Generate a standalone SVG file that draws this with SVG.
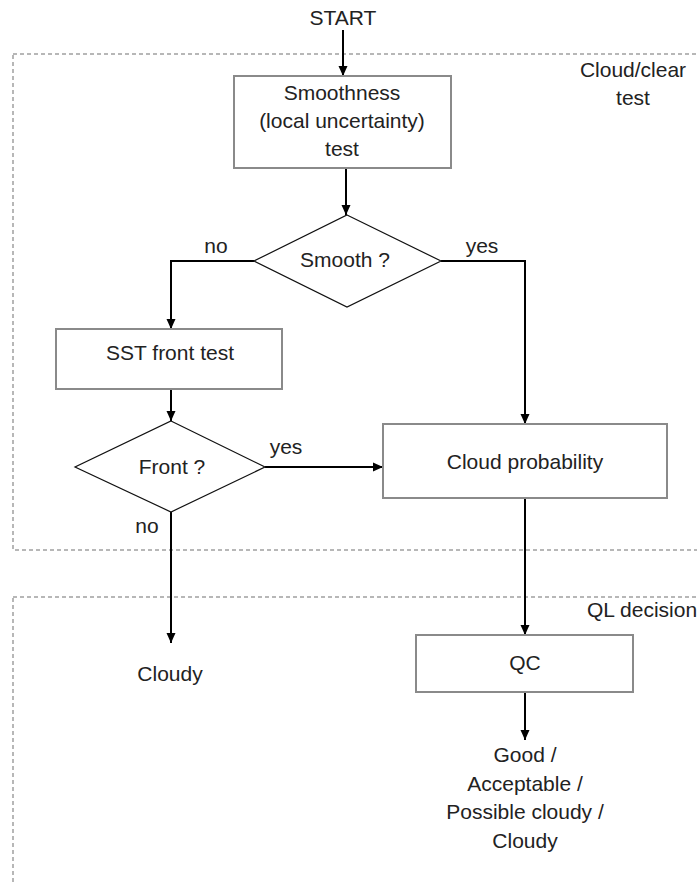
<svg xmlns="http://www.w3.org/2000/svg" width="697" height="885" viewBox="0 0 697 885">
<style>
text{font-family:"Liberation Sans",Arial,sans-serif;font-size:21px;fill:#222;text-anchor:middle}
.box{fill:#fff;stroke:#8a8a8a;stroke-width:2}
.dia{fill:#fff;stroke:#111;stroke-width:1.2}
.grp{fill:none;stroke:#a0a0a0;stroke-width:1.5;stroke-dasharray:4 3}
.con{fill:none;stroke:#000;stroke-width:2}
.arr{marker-end:url(#ah)}
</style>
<defs>
<marker id="ah" markerUnits="userSpaceOnUse" markerWidth="10" markerHeight="10" refX="10" refY="5" orient="auto">
<path d="M0,0.5 L10,5 L0,9.5 z" fill="#000"/>
</marker>
</defs>
<rect width="697" height="885" fill="#fff"/>
<g id="groups">
<rect class="grp" x="13" y="54" width="700" height="496"/>
<rect class="grp" x="13" y="597" width="700" height="300"/>
<text x="633" y="77">Cloud/clear</text>
<text x="633" y="105">test</text>
<text x="587" y="617" style="text-anchor:start">QL decision</text>
</g>
<g id="connectors">
<path class="con arr" d="M343,30 V76"/>
<path class="con arr" d="M346,168 V215"/>
<path class="con arr" d="M254,261 H171 V329"/>
<path class="con arr" d="M441,261 H525 V424"/>
<path class="con arr" d="M171,389 V421"/>
<path class="con arr" d="M265,467 H383"/>
<path class="con arr" d="M171,512 V643"/>
<path class="con arr" d="M525,498 V635"/>
<path class="con arr" d="M525,692 V740"/>
<text x="216" y="253">no</text>
<text x="482" y="253">yes</text>
<text x="286" y="454">yes</text>
<text x="147" y="533">no</text>
</g>
<g id="start"><text x="343" y="25">START</text></g>
<g id="smoothness">
<rect class="box" x="234" y="76" width="217" height="92"/>
<text x="342" y="100">Smoothness</text>
<text x="342" y="128">(local uncertainty)</text>
<text x="342" y="156">test</text>
</g>
<g id="smooth">
<polygon class="dia" points="347,215 441,261 347,307 254,261"/>
<text x="345" y="267">Smooth ?</text>
</g>
<g id="sst">
<rect class="box" x="56" y="329" width="226" height="60"/>
<text x="170" y="360">SST front test</text>
</g>
<g id="front">
<polygon class="dia" points="171,421 265,467 171,512 75,467"/>
<text x="172" y="474">Front ?</text>
</g>
<g id="cloudprob">
<rect class="box" x="383" y="424" width="284" height="74"/>
<text x="525" y="469">Cloud probability</text>
</g>
<g id="cloudy"><text x="170" y="681">Cloudy</text></g>
<g id="qc">
<rect class="box" x="416" y="635" width="217" height="57"/>
<text x="525" y="670">QC</text>
</g>
<g id="outputs">
<text x="525" y="762">Good /</text>
<text x="525" y="791">Acceptable /</text>
<text x="525" y="819">Possible cloudy /</text>
<text x="525" y="848">Cloudy</text>
</g>
</svg>
